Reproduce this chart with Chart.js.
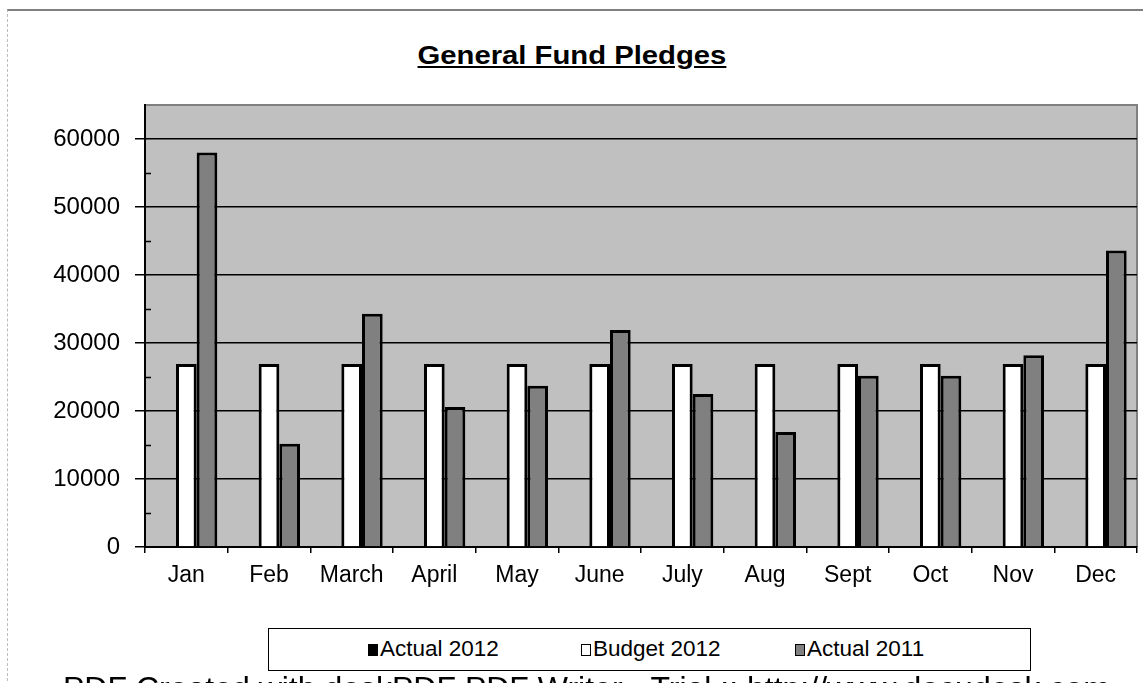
<!DOCTYPE html>
<html>
<head>
<meta charset="utf-8">
<script src="https://cdn.jsdelivr.net/npm/chart.js@4"></script>
<style>
  body { margin:0; background:#fff; width:1143px; height:683px; overflow:hidden; position:relative; font-family:"Liberation Sans", Arial, sans-serif; }
  #frame { position:absolute; left:7px; top:9px; width:1140px; height:700px; border-top:2px solid #808080; border-left:1px dashed #bbb; }
  #title { position:absolute; left:0; width:1143px; top:41px; text-align:center; }
  #title span { display:inline-block; font-weight:bold; font-size:25px; text-decoration:underline; transform:scaleX(1.17); }
  #wrap { position:absolute; left:0; top:0; width:1143px; height:683px; }
  #legend { position:absolute; left:268px; top:628px; width:761px; height:41px; border:1.5px solid #000; background:#fff; font-size:22.5px; }
  .item { position:absolute; top:7px; white-space:nowrap; }
  .sw { display:inline-block; width:10px; height:12px; border:1.5px solid #000; margin-right:2px; vertical-align:0px; box-sizing:border-box; }
  #wm { position:absolute; left:63px; top:672px; font-size:32px; line-height:1; white-space:nowrap; color:#000; }
</style>
</head>
<body>
<div id="frame"></div>
<div id="title"><span>General Fund Pledges</span></div>
<div id="wrap"><canvas id="myChart"></canvas></div>
<div id="legend">
  <span class="item" style="left:99px"><span class="sw" style="background:#000"></span>Actual 2012</span>
  <span class="item" style="left:312px"><span class="sw" style="background:#fff"></span>Budget 2012</span>
  <span class="item" style="left:526px"><span class="sw" style="background:#808080"></span>Actual 2011</span>
</div>
<div id="wm">PDF Created with deskPDF PDF Writer - Trial :: http://www.docudesk.com</div>
<script>
var months = ["Jan", "Feb", "March", "April", "May", "June", "July", "Aug", "Sept", "Oct", "Nov", "Dec"];
var actual2012 = [null, null, null, null, null, null, null, null, null, null, null, null];
var budget2012 = [26900, 26900, 26900, 26900, 26900, 26900, 26900, 26900, 26900, 26900, 26900, 26900];
var actual2011 = [58000, 15200, 34300, 20600, 23700, 31900, 22500, 16900, 25200, 25200, 28200, 43600];
var yTicks = [0, 10000, 20000, 30000, 40000, 50000, 60000];
var yMinor = [5000, 15000, 25000, 35000, 45000, 55000];

// plot background, border and the small inner ticks
var plotDeco = {
    id: 'plotDeco',
    beforeDraw: function(c){
        var a = c.chartArea, ctx = c.ctx;
        ctx.save();
        ctx.fillStyle = '#c0c0c0';
        ctx.fillRect(a.left, a.top, a.right - a.left, a.bottom - a.top);
        ctx.strokeStyle = '#808080';
        ctx.lineWidth = 2;
        ctx.beginPath();
        ctx.moveTo(a.left, a.top); ctx.lineTo(a.right, a.top); ctx.lineTo(a.right, a.bottom);
        ctx.stroke();
        ctx.restore();
    },
    afterDraw: function(c){
        var a = c.chartArea, ctx = c.ctx, y = c.scales.y;
        ctx.save();
        ctx.strokeStyle = '#000';
        ctx.lineWidth = 1.5;
        for (var i = 0; i < yMinor.length; i++) {
            var p = Math.round(y.getPixelForValue(yMinor[i])) + 0.5;
            ctx.beginPath(); ctx.moveTo(a.left, p); ctx.lineTo(a.left + 6, p); ctx.stroke();
        }
        ctx.restore();
    }
};

var ctx = document.getElementById('myChart').getContext('2d');
var chart = new Chart(ctx, {
    type: 'bar',
    data: {
        labels: months,
        datasets: [{
            label: "Actual 2012",
            backgroundColor: '#000',
            borderColor: '#000',
            borderWidth: 3,
            data: actual2012
        }, {
            label: "Budget 2012",
            backgroundColor: '#fff',
            borderColor: '#000',
            borderWidth: 3,
            data: budget2012
        }, {
            label: "Actual 2011",
            backgroundColor: '#808080',
            borderColor: '#000',
            borderWidth: 3,
            data: actual2011
        }]
    },
    options: {
        responsive: true,
        maintainAspectRatio: false,
        animation: false,
        layout: { padding: { left: 0, top: 105, right: 6, bottom: 96 } },
        datasets: { bar: { categoryPercentage: 0.75, barPercentage: 1.0 } },
        plugins: { legend: { display: false }, tooltip: { enabled: false } },
        scales: {
            x: {
                grid: { display: true, drawOnChartArea: false, offset: true, color: '#000', lineWidth: 1.5, tickLength: 6 },
                border: { display: true, color: '#000', width: 2 },
                ticks: { color: '#000', padding: 9, font: { family: "Liberation Sans, Arial", size: 23 } },
                afterFit: function(s){ s.height = 40; }
            },
            y: {
                min: 0,
                max: 65000,
                afterBuildTicks: function(s){ s.ticks = yTicks.map(function(v){ return { value: v }; }); },
                grid: { color: '#000', lineWidth: 1.5, tickLength: 10 },
                border: { display: true, color: '#000', width: 2 },
                ticks: { color: '#000', padding: 15, font: { family: "Liberation Sans, Arial", size: 24 },
                         callback: function(v){ return String(v); } },
                afterFit: function(s){ s.width = 145; }
            }
        }
    },
    plugins: [plotDeco]
});
</script>
</body>
</html>
